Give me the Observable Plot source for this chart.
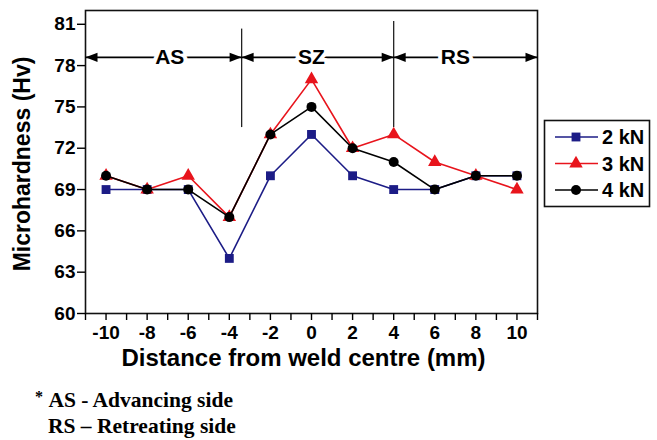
<!DOCTYPE html>
<html>
<head>
<meta charset="utf-8">
<script src="https://cdn.jsdelivr.net/npm/d3@7"></script>
<script src="https://cdn.jsdelivr.net/npm/@observablehq/plot@0.6"></script>
<style>
  html, body { margin: 0; padding: 0; background: #fff; }
  #wrap { position: relative; width: 657px; height: 440px; overflow: hidden; }
  #legend { position: absolute; left: 0; top: 0; }
  #foot { position: absolute; left: 35px; top: 387px; font-family: "Liberation Serif", "Times New Roman", serif; font-weight: bold; font-size: 21.5px; line-height: 26px; color: #000; }
  #foot sup { font-size: 16px; vertical-align: 5px; line-height: 0; }
</style>
</head>
<body>
<div id="wrap"></div>
<script>
// ---- data ----
const distance = [-10, -8, -6, -4, -2, 0, 2, 4, 6, 8, 10];
const load2kN = [69, 69, 69, 64, 70, 73, 70, 69, 69, 70, 70];
const load3kN = [70, 69, 70, 67, 73, 77, 72, 73, 71, 70, 69];
const load4kN = [70, 69, 69, 67, 73, 75, 72, 71, 69, 70, 70];
const seriesNames = ["2 kN", "3 kN", "4 kN"];
const seriesColors = ["#1c1c86", "#e8141c", "#000000"];
const seriesSymbols = ["square", "triangle", "circle"];
const yTicks = [60, 63, 66, 69, 72, 75, 78, 81];
const xTicks = d3.range(-11, 12);
// zone annotations
const zoneBounds = [-11, -3.4, 4, 11];
const zoneLabels = ["AS", "SZ", "RS"];
const zoneLabelX = [-6.9, 0, 7.0];
const zoneArrowY = 78.6;
const dividerX = [-3.4, 4];
const dividerTop = [80.65, 81.2];
const dividerBottom = [73.5, 73.5];

const allSeries = [load2kN, load3kN, load4kN];
const rows = [];
allSeries.forEach((vals, s) => vals.forEach((v, i) => rows.push({x: distance[i], y: v, s: seriesNames[s]})));

const zones = zoneLabels.map((l, i) => ({x1: zoneBounds[i], x2: zoneBounds[i + 1], label: l, lx: zoneLabelX[i]}));
const heads = [];
zones.forEach(z => { heads.push({x: z.x1, rot: 180}); heads.push({x: z.x2, rot: 0}); });
const dividers = dividerX.map((x, i) => ({x, y1: dividerBottom[i], y2: dividerTop[i]}));

// arrowhead symbol: tip at the anchor point, pointing right
const arrowHead = {draw(context) { context.moveTo(0, 0); context.lineTo(-12, -4.6); context.lineTo(-12, 4.6); context.closePath(); }};

const font = "'Liberation Sans', Arial, Helvetica, sans-serif";

const marks = [
  Plot.frame({stroke: "#111", strokeWidth: 1.6}),
  Plot.axisY({ticks: yTicks, tickSize: 8, tickPadding: 2, fontSize: 19, label: null, strokeWidth: 1.4}),
  Plot.axisX({ticks: xTicks, tickFormat: d => (d % 2 === 0 ? String(d) : ""), tickSize: 7, tickPadding: 5, fontSize: 19, label: null, strokeWidth: 1.4}),
  Plot.text(["Microhardness (Hv)"], {frameAnchor: "left", textAnchor: "middle", lineAnchor: "middle", dx: -63, dy: 2, rotate: -90, fontSize: 23, fontWeight: "bold", text: d => d}),
  Plot.text(["Distance from weld centre (mm)"], {frameAnchor: "bottom", textAnchor: "middle", lineAnchor: "middle", dx: -8, dy: 45, fontSize: 24, fontWeight: "bold", text: d => d}),
  // zone annotations
  Plot.ruleX(dividers, {x: "x", y1: "y1", y2: "y2", stroke: "#222", strokeWidth: 1.3}),
  Plot.link(zones, {x1: "x1", x2: "x2", y1: zoneArrowY, y2: zoneArrowY, stroke: "#000", strokeWidth: 1.6}),
  Plot.dot(heads, {x: "x", y: zoneArrowY, symbol: arrowHead, rotate: "rot", r: 5, fill: "#000", stroke: "none"}),
  Plot.text(zones, {x: "lx", y: zoneArrowY, text: "label", fontSize: 21, fontWeight: "bold", stroke: "white", strokeWidth: 8, fill: "black", paintOrder: "stroke"}),
];
seriesNames.forEach((name, s) => {
  const d = rows.filter(r => r.s === name);
  marks.push(Plot.line(d, {x: "x", y: "y", stroke: seriesColors[s], strokeWidth: 1.6}));
  marks.push(Plot.dot(d, {x: "x", y: "y", symbol: seriesSymbols[s], r: 5, fill: seriesColors[s], stroke: "none"}));
});

const chart = Plot.plot({
  width: 657,
  height: 375,
  marginLeft: 85,
  marginRight: 120,
  marginTop: 10,
  marginBottom: 62,
  style: {fontFamily: font, fontWeight: "bold", color: "#000", background: "white"},
  x: {domain: [-11, 11]},
  y: {domain: [60, 82]},
  marks
});
const wrap = document.getElementById("wrap");
wrap.appendChild(chart);

// legend
const leg = d3.select(wrap).append("svg").attr("id", "legend").attr("width", 657).attr("height", 260);
leg.append("rect").attr("x", 544.5).attr("y", 120.5).attr("width", 105).attr("height", 86)
  .attr("fill", "white").attr("stroke", "#111").attr("stroke-width", 1.6);
const symMap = {square: d3.symbolSquare, triangle: d3.symbolTriangle, circle: d3.symbolCircle};
seriesNames.forEach((name, s) => {
  const y = 137 + s * 26.5;
  leg.append("line").attr("x1", 555).attr("x2", 598).attr("y1", y).attr("y2", y)
    .attr("stroke", seriesColors[s]).attr("stroke-width", 1.6);
  leg.append("path").attr("d", d3.symbol(symMap[seriesSymbols[s]], Math.PI * 25)())
    .attr("transform", `translate(576,${y})`).attr("fill", seriesColors[s]);
  leg.append("text").attr("x", 602).attr("y", y).attr("dy", "0.35em")
    .attr("font-family", font).attr("font-weight", "bold").attr("font-size", 20).text(name);
});

// footnote
const foot = document.createElement("div");
foot.id = "foot";
foot.innerHTML = '<div><sup>*</sup>&nbsp;AS - Advancing side</div><div style="padding-left:13px">RS \u2013 Retreating side</div>';
wrap.appendChild(foot);
</script>
</body>
</html>
